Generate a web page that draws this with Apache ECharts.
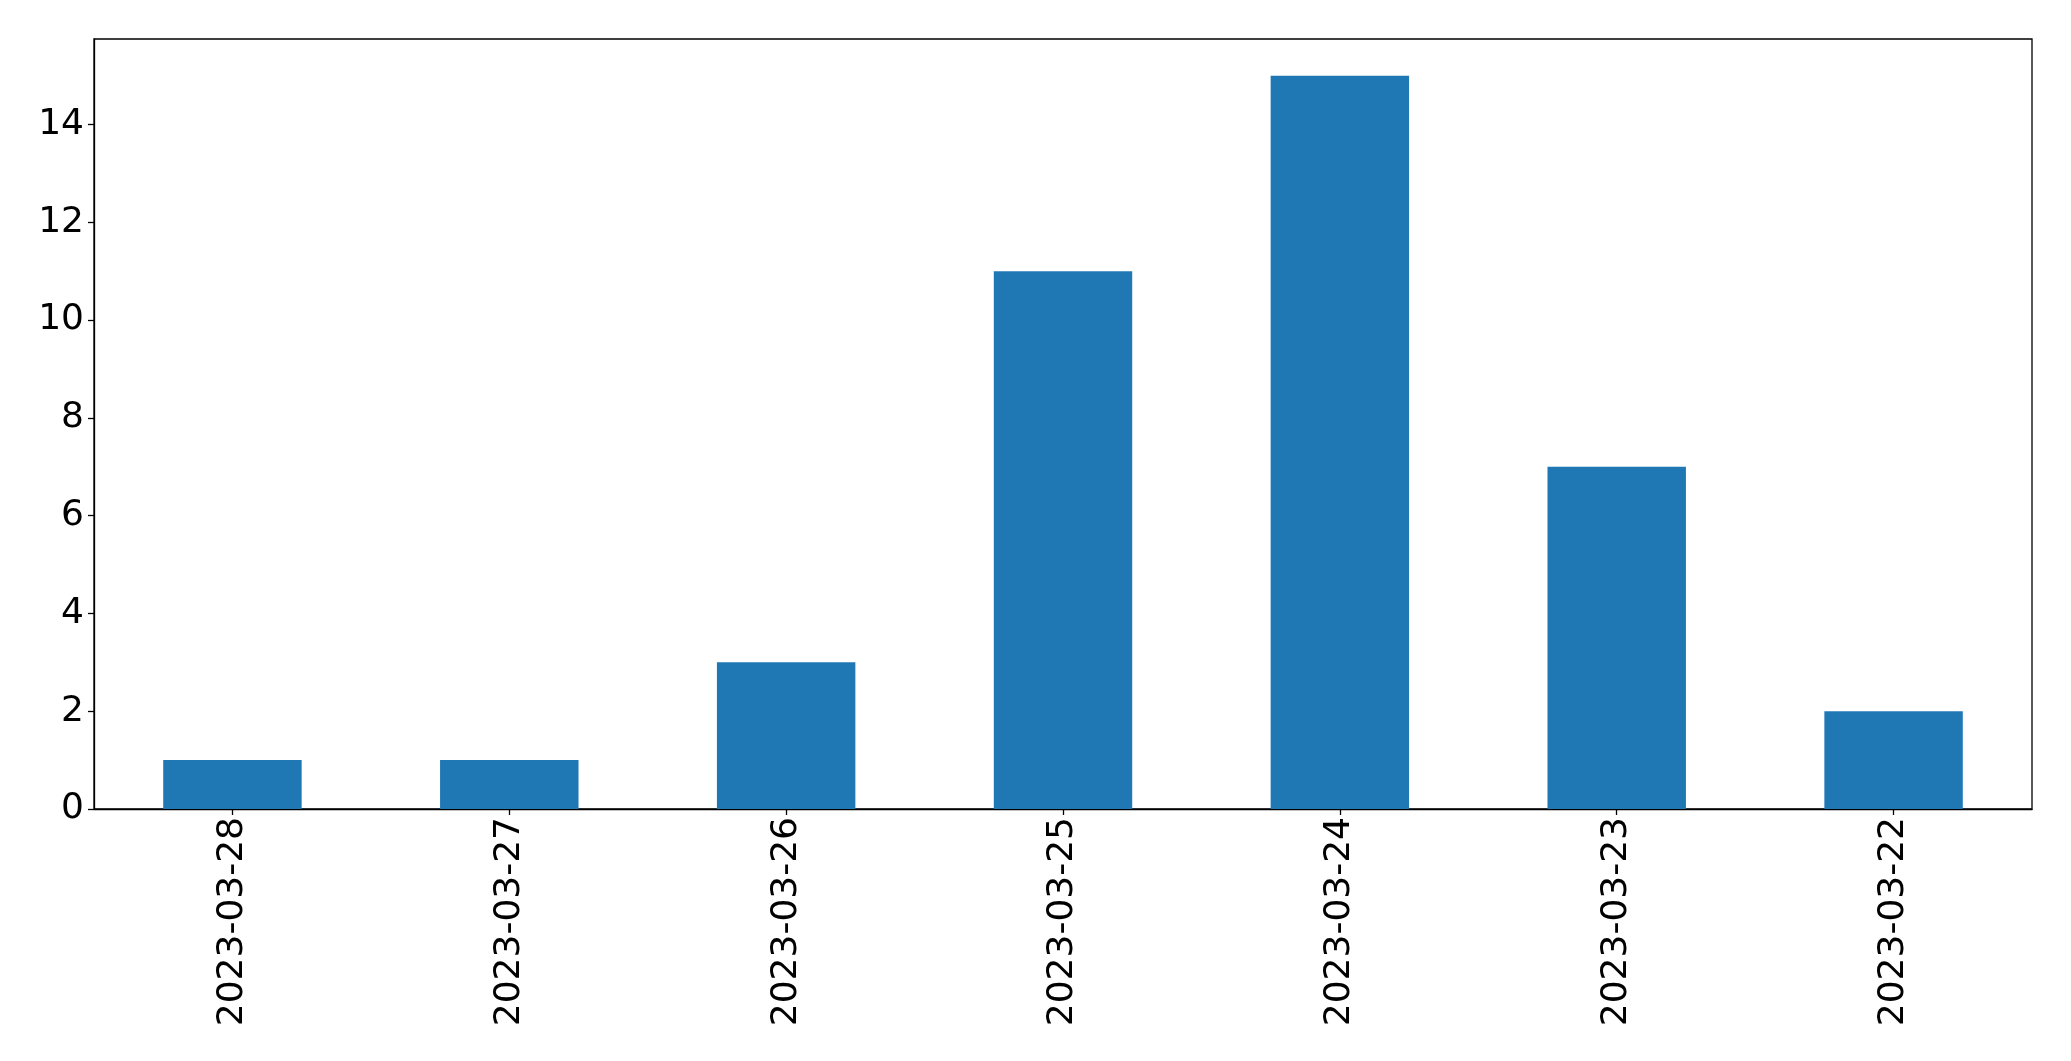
<!DOCTYPE html>
<html><head><meta charset="utf-8">
<script src="https://cdn.jsdelivr.net/npm/echarts@6/dist/echarts.min.js"></script>
<style>html,body{margin:0;padding:0;background:#fff;}#c{width:2071px;height:1061px;}</style>
</head><body><div id="c"></div>
<script>
const categories = ["2023-03-28","2023-03-27","2023-03-26","2023-03-25","2023-03-24","2023-03-23","2023-03-22"];
const values = [1, 1, 3, 11, 15, 7, 2];
const yTicks = [0, 2, 4, 6, 8, 10, 12, 14];

const chart = echarts.init(document.getElementById('c'), null, {renderer: 'canvas'});
const font = 'DejaVu Sans';
chart.setOption({
  animation: false,
  backgroundColor: '#fff',
  grid: {left: 94, right: 39, top: 39, bottom: 252, show: true, borderColor: '#000', borderWidth: 1.3, backgroundColor: 'transparent'},
  xAxis: {
    type: 'category', data: categories,
    axisLine: {show: true, lineStyle: {color: '#000', width: 1.3}},
    axisTick: {show: true, alignWithLabel: true, length: 6, lineStyle: {color: '#000', width: 1.3}},
    axisLabel: {rotate: 90, fontSize: 36, fontFamily: font, color: '#000', margin: 8},
    splitLine: {show: false}
  },
  yAxis: {
    type: 'value', min: 0, max: 15.75, interval: 2,
    axisLine: {show: true, lineStyle: {color: '#000', width: 1.3}},
    axisTick: {show: true, length: 6, lineStyle: {color: '#000', width: 1.3}},
    axisLabel: {fontSize: 36, fontFamily: font, color: '#000', margin: 10, showMaxLabel: false,
      formatter: v => yTicks.includes(v) ? String(v) : ''},
    splitLine: {show: false}
  },
  series: [{
    type: 'bar', data: values, barWidth: '50%',
    itemStyle: {color: '#1f77b4'}
  }]
});
</script></body></html>
